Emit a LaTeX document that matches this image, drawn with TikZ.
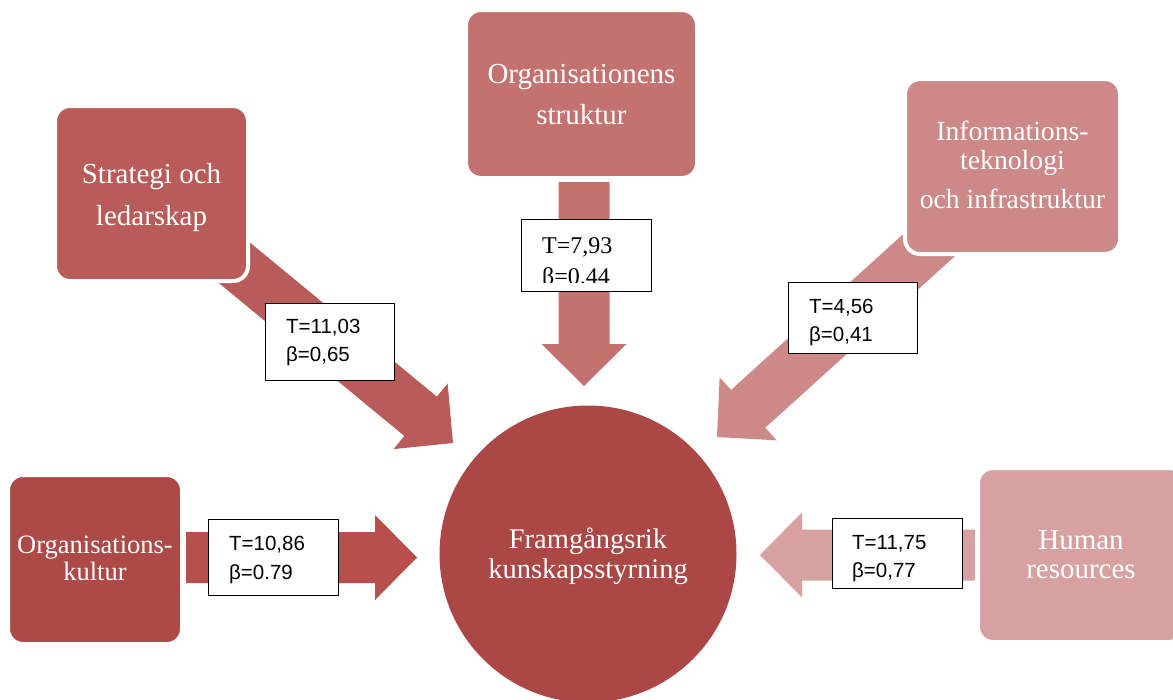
\documentclass[tikz,border=0pt]{standalone}
\usepackage{fontspec}
\setmainfont{Liberation Serif}
\newfontfamily\labelsans{Liberation Sans}
\usetikzlibrary{calc}
\definecolor{cStrat}{HTML}{B95C59}
\definecolor{cStruk}{HTML}{C3726F}
\definecolor{cIT}{HTML}{CC8987}
\definecolor{cKult}{HTML}{AD4A47}
\definecolor{cKultArr}{HTML}{B94F4C}
\definecolor{cHR}{HTML}{D8A1A1}
\definecolor{cCirc}{HTML}{AB4744}
\newcommand\blockarr[3]{%
  \coordinate (hb-#1) at ($(#2)!42pt!(#1)$);
  \fill[#3] ($(#1)!25.5pt!90:(#2)$) -- ($(hb-#1)!25.5pt!90:(#2)$) -- ($(hb-#1)!42.5pt!90:(#2)$)
    -- (#2) -- ($(hb-#1)!42.5pt!-90:(#2)$) -- ($(hb-#1)!25.5pt!-90:(#2)$) -- ($(#1)!25.5pt!-90:(#2)$) -- cycle;
}
% first baseline placed #1 above the node centre
\newcommand\firstbase[2]{\raisebox{#1}[0pt][0pt]{\begin{tabular}[t]{@{}c@{}}#2\end{tabular}}}
\begin{document}
\begin{tikzpicture}[x=1pt,y=-1pt,
  box/.style={rounded corners=15pt, draw=white, line width=4pt, text=white, align=center, inner sep=0pt},
  lab/.style={draw=black, fill=white, line width=1.5pt, inner sep=0pt},
  labtxt/.style={anchor=base west, inner sep=0pt, font=\labelsans\fontsize{20.5}{28}\selectfont},
  labtxtserif/.style={anchor=base west, inner sep=0pt, font=\fontsize{24}{28}\selectfont},
]
\useasboundingbox (0,0) rectangle (1173,699);
\clip (0,0) rectangle (1173,699);

% arrow end points
\coordinate (aStratTail) at (214,246);
\coordinate (aStratTip) at (453,443);
\coordinate (aStrukTail) at (584,182);
\coordinate (aStrukTip) at (584,386);
\coordinate (aITTail) at (948,228);
\coordinate (aITTip) at (717,437);
\coordinate (aKultTail) at (186,557.5);
\coordinate (aKultTip) at (417,557.5);
\coordinate (aHRTail) at (975,555);
\coordinate (aHRTip) at (760,555);

% block arrows
\blockarr{aStratTail}{aStratTip}{cStrat}
\blockarr{aStrukTail}{aStrukTip}{cStruk}
\blockarr{aITTail}{aITTip}{cIT}
\blockarr{aKultTail}{aKultTip}{cKultArr}
\blockarr{aHRTail}{aHRTip}{cHR}

% boxes
\node[box, fill=cStrat, minimum width=193, minimum height=175,
  font=\fontsize{29}{42}\selectfont] (strat) at (151.5,193.5) {\firstbase{10.5pt}{Strategi och\\ledarskap}};
\node[box, fill=cStruk, minimum width=231, minimum height=168,
  font=\fontsize{29}{41}\selectfont] (struk) at (581.5,94) {\firstbase{11pt}{Organisationens\\struktur}};
\node[box, fill=cIT, minimum width=215, minimum height=175,
  font=\fontsize{27.7}{29}\selectfont] (it) at (1012.5,166.5) {\firstbase{26.5pt}{Informations-\\teknologi\\[10pt]och infrastruktur}};
\node[box, fill=cKult, minimum width=174, minimum height=169,
  font=\fontsize{26.5}{27}\selectfont] (kult) at (95,559.5) {\firstbase{6.5pt}{Organisations-\\kultur}};
\node[box, fill=cHR, minimum width=206, minimum height=174,
  font=\fontsize{29}{29}\selectfont] (hr) at (1081,555) {\firstbase{6pt}{Human\\resources}};
\node[circle, fill=cCirc, minimum size=297, inner sep=0pt, text=white, align=center,
  font=\fontsize{28.5}{30}\selectfont] (goal) at (588,554) {\firstbase{6pt}{Framgångsrik\\kunskapsstyrning}};

% label boxes
\node[lab, minimum width=129, minimum height=77] (l1) at (330,342) {};
\node[labtxt] (l1a) at (286,333) {T=11,03};
\node[labtxt] (l1b) at (286,361) {β=0,65};

\node[lab, minimum width=130, minimum height=72] (l2) at (586.5,255.5) {};
\begin{scope}
  \clip ($(l2.north west)+(1,1)$) rectangle ($(l2.east)+(-1,26.5)$);
  \node[labtxtserif] (l2a) at (542,253) {T=7,93};
  \node[labtxtserif] (l2b) at (542,284) {β=0.44};
\end{scope}

\node[lab, minimum width=129, minimum height=71] (l3) at (853,318) {};
\node[labtxt] (l3a) at (809,313) {T=4,56};
\node[labtxt] (l3b) at (809,341) {β=0,41};

\node[lab, minimum width=130, minimum height=76] (l4) at (273.5,557.5) {};
\node[labtxt] (l4a) at (229,550) {T=10,86};
\node[labtxt] (l4b) at (229,579) {β=0.79};

\node[lab, minimum width=130, minimum height=70] (l5) at (897.5,553.5) {};
\node[labtxt] (l5a) at (852,549) {T=11,75};
\node[labtxt] (l5b) at (852,577) {β=0,77};
\end{tikzpicture}
\end{document}
